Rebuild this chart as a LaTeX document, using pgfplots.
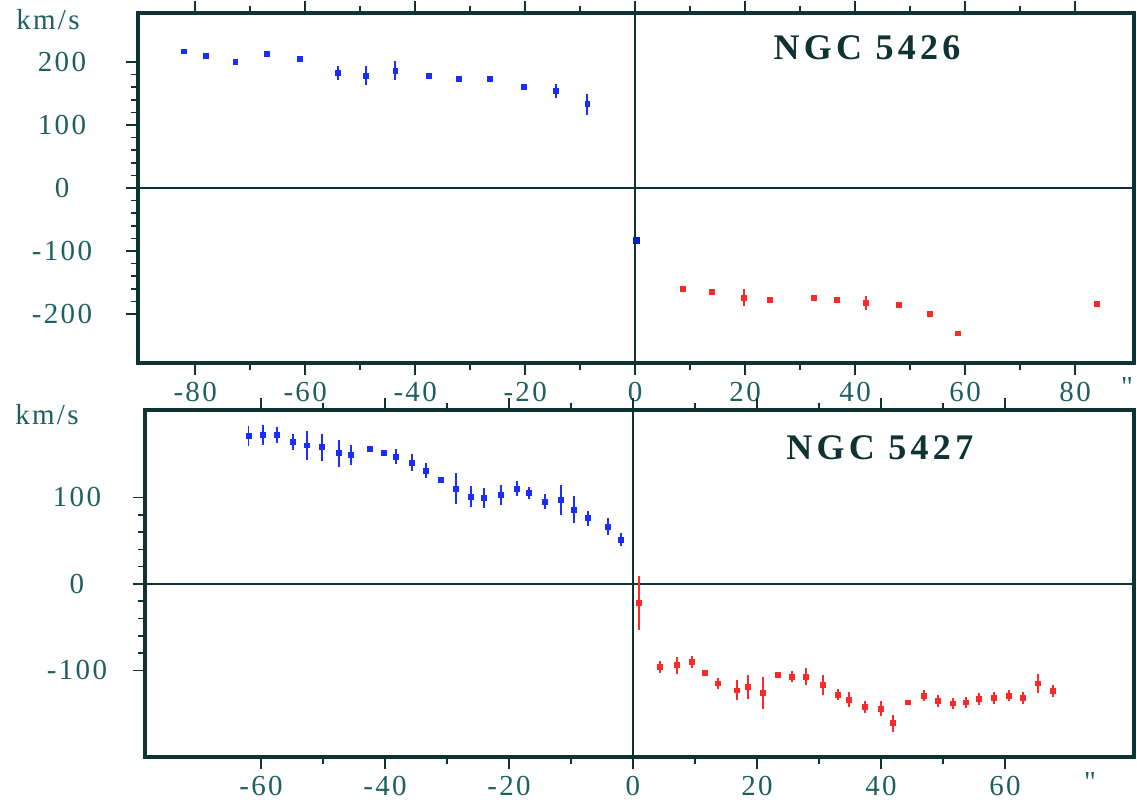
\documentclass[border=0pt]{standalone}
\usepackage{pgfplots}
\pgfplotsset{compat=1.18}
\usepackage{fontspec}
\setmainfont{Liberation Serif}
\newfontfamily\tickfont[LetterSpace=8]{Liberation Serif}
\newfontfamily\titlefont[LetterSpace=12]{Liberation Serif}

\definecolor{frame}{RGB}{15,50,50}
\definecolor{lab}{RGB}{30,95,95}
\definecolor{ptblue}{RGB}{25,45,255}
\definecolor{ptdark}{RGB}{10,30,200}
\definecolor{ptred}{RGB}{255,40,40}

\pgfplotsset{
  panel/.style={
    scale only axis,
    axis line style={frame, line width=2pt},
    tick align=outside, xtick pos=both, ytick pos=left, xticklabel pos=lower,
    major tick length=6pt, minor tick length=3.5pt,
    every tick/.style={frame, line width=0.8pt},
    tick label style={font=\tickfont\fontsize{14.5}{16}\selectfont, text=lab},
    /pgf/number format/assume math mode=true,
    minor x tick num=1, minor y tick num=4,
  },
  pts/.style={only marks, mark=square*, mark size=1.2pt},
  errs/.style={only marks, mark=square*, mark size=1.2pt,
    error bars/y dir=both, error bars/y explicit,
    error bars/error bar style={line width=0.9pt},
    error bars/error mark options={mark size=1.6pt, line width=0.9pt}},
}

\begin{document}
\begin{tikzpicture}
\useasboundingbox (0,0) rectangle (568.5pt,401.5pt);

% NGC 5426
\begin{axis}[panel, at={(69pt,220pt)}, anchor=south west,
  width=498pt, height=175pt,
  xmin=-90.4, xmax=90.7, ymin=-278, ymax=278,
  xtick={-80,-60,...,80}, ytick={-200,-100,0,100,200},
  yticklabel style={anchor=center, xshift=-32pt},
]
\draw[frame, line width=1pt] (axis cs:-90.4,0) -- (axis cs:90.7,0);
\draw[frame, line width=1pt] (axis cs:0,-278) -- (axis cs:0,278);
\addplot[pts, ptblue] coordinates {
  (-82,217) (-78,210) (-72.7,200) (-67,213) (-61,205)
  (-37.5,178) (-32,173) (-26.4,173) (-20.2,160)
};
\addplot[errs, ptblue] coordinates {
  (-54,183) +- (0,6)
  (-49,178) +- (0,10)
  (-43.6,186) +- (0,10)
  (-14.4,154) +- (0,6)
  (-8.7,133) +- (0,12)
};
\addplot[pts, ptdark, mark size=1.5pt] coordinates {(0.3,-84)};
\addplot[pts, ptred] coordinates {
  (8.7,-160) (14,-165) (24.5,-178) (32.5,-174) (36.7,-178)
  (48,-186) (53.6,-200) (58.7,-231) (84,-184)
};
\addplot[errs, ptred] coordinates {
  (19.8,-174) +- (0,8)
  (42,-183) +- (0,6)
};
\node[font=\titlefont\fontsize{18}{20}\selectfont\bfseries, text=frame]
  at (rel axis cs:0.732,0.9) {NGC 5426};
\end{axis}

% NGC 5427
\begin{axis}[panel, at={(72.5pt,23pt)}, anchor=south west,
  width=494.5pt, height=173.5pt,
  xmin=-78.7, xmax=80.8, ymin=-200, ymax=201,
  xtick={-60,-40,...,60}, ytick={-100,0,100},
  yticklabel style={anchor=center, xshift=-28pt},
]
\draw[frame, line width=1pt] (axis cs:-78.7,0) -- (axis cs:80.8,0);
\draw[frame, line width=1pt] (axis cs:0,-200) -- (axis cs:0,201);
\addplot[pts, ptblue] coordinates {
  (-42.4,156) (-40.2,151) (-31,120)
};
\addplot[errs, ptblue] coordinates {
  (-62,171) +- (0,8)
  (-59.7,172) +- (0,8)
  (-57.4,172) +- (0,6)
  (-54.8,164) +- (0,5)
  (-52.6,160) +- (0,13)
  (-50.2,158) +- (0,12)
  (-47.4,151) +- (0,12)
  (-45.5,149) +- (0,8)
  (-38.2,147) +- (0,5)
  (-35.6,140) +- (0,6)
  (-33.4,131) +- (0,5)
  (-28.5,110) +- (0,14)
  (-26.1,101) +- (0,8)
  (-24,99) +- (0,8)
  (-21.3,103) +- (0,8)
  (-18.7,110) +- (0,5)
  (-16.8,105) +- (0,3)
  (-14.2,95) +- (0,5)
  (-11.6,97) +- (0,14)
  (-9.5,86) +- (0,12)
  (-7.3,76) +- (0,5)
  (-4,66) +- (0,6)
  (-1.9,51) +- (0,4)
};
\addplot[pts, ptred] coordinates {
  (11.6,-103) (23.4,-105) (44.3,-137)
};
\addplot[errs, ptred] coordinates {
  (1,-22) +- (0,28)
  (4.4,-96) +- (0,3)
  (7.1,-94) +- (0,6)
  (9.5,-90) +- (0,3)
  (13.7,-115) +- (0,3)
  (16.8,-123) +- (0,8)
  (18.5,-119) +- (0,10)
  (21,-126) +- (0,15)
  (25.6,-107) +- (0,3)
  (27.9,-107) +- (0,6)
  (30.6,-117) +- (0,8)
  (33,-128) +- (0,3)
  (34.8,-134) +- (0,5)
  (37.4,-142) +- (0,3)
  (40,-144) +- (0,5)
  (41.9,-161) +- (0,6)
  (46.9,-129) +- (0,3)
  (49.2,-135) +- (0,3)
  (51.6,-138) +- (0,3)
  (53.7,-137) +- (0,3)
  (55.8,-133) +- (0,3)
  (58.2,-132) +- (0,3)
  (60.6,-129) +- (0,3)
  (62.9,-132) +- (0,3)
  (65.3,-115) +- (0,7)
  (67.7,-124) +- (0,3)
};
\node[font=\titlefont\fontsize{18}{20}\selectfont\bfseries, text=frame]
  at (rel axis cs:0.743,0.89) {NGC 5427};
\end{axis}

\node[font=\tickfont\fontsize{14.5}{16}\selectfont, text=lab] at (24pt,391.5pt) {km/s};
\node[font=\tickfont\fontsize{14.5}{16}\selectfont, text=lab] at (23.5pt,194pt) {km/s};
\node[font=\tickfont\fontsize{14.5}{16}\selectfont, text=lab] at (563.5pt,208pt) {"};
\node[font=\tickfont\fontsize{14.5}{16}\selectfont, text=lab] at (545pt,10.5pt) {"};
\end{tikzpicture}
\end{document}
